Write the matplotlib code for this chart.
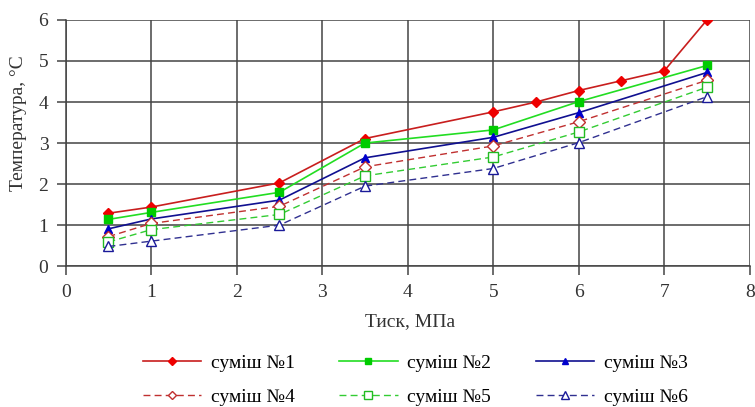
import matplotlib
matplotlib.use('Agg')
import matplotlib.pyplot as plt

plt.rcParams['font.family'] = ['Liberation Serif', 'DejaVu Serif']

# pressure, MPa
x_main = [0.5, 1, 2.5, 3.5, 5, 5.5, 6, 6.5, 7, 7.5]
x = [0.5, 1, 2.5, 3.5, 5, 6, 7.5]

mix1 = [1.29, 1.44, 2.03, 3.11, 3.76, 4.0, 4.28, 4.52, 4.76, 6.0]
mix2 = [1.14, 1.31, 1.80, 3.0, 3.32, 4.01, 4.89]
mix3 = [0.91, 1.15, 1.61, 2.64, 3.14, 3.74, 4.72]
mix4 = [0.72, 1.04, 1.46, 2.42, 2.93, 3.52, 4.53]
mix5 = [0.59, 0.89, 1.26, 2.2, 2.66, 3.27, 4.36]
mix6 = [0.48, 0.61, 1.0, 1.95, 2.38, 3.01, 4.13]

labels = ['суміш №1', 'суміш №2', 'суміш №3', 'суміш №4', 'суміш №5', 'суміш №6']

fig = plt.figure(figsize=(7.55, 4.07), dpi=100)
ax = fig.add_axes([0.087, 0.346, 0.906, 0.605])

h1, = ax.plot(x_main, mix1, color='#c81e1e', lw=1.2, marker='D', ms=5,
              mfc='#ee0000', mec='#ee0000', label=labels[0])
h2, = ax.plot(x, mix2, color='#22dd22', lw=1.2, marker='s', ms=6,
              mfc='#00cc00', mec='#00cc00', label=labels[1])
h3, = ax.plot(x, mix3, color='#101090', lw=1.2, marker='^', ms=6,
              mfc='#0000cc', mec='#0000cc', label=labels[2])
h4, = ax.plot(x, mix4, color='#c03030', lw=1.0, ls=(0, (5, 3)), marker='D', ms=6,
              mfc='white', mec='#c03030', label=labels[3])
h5, = ax.plot(x, mix5, color='#33cc33', lw=1.0, ls=(0, (5, 3)), marker='s', ms=7,
              mfc='white', mec='#22bb22', label=labels[4])
h6, = ax.plot(x, mix6, color='#303090', lw=1.0, ls=(0, (5, 3)), marker='^', ms=7,
              mfc='white', mec='#1a1a99', label=labels[5])

ax.set_xlim(0, 8)
ax.set_ylim(0, 6)
ax.set_xticks(range(0, 9))
ax.set_yticks(range(0, 7))
ax.grid(True, color='#444444', lw=1.1)
ax.set_axisbelow(True)
for s in ['top', 'right']:
    ax.spines[s].set_visible(False)
for s in ['left', 'bottom']:
    ax.spines[s].set_color('#444444')
    ax.spines[s].set_linewidth(1.1)
ax.tick_params(labelsize=14, length=6.5, width=1.1, color='#444444', labelcolor='#333333')
ax.tick_params(axis='x', pad=6)
ax.tick_params(axis='y', pad=6)

ax.set_xlabel('Тиск, МПа', fontsize=14, color='#333333')
ax.set_ylabel('Температура, °С', fontsize=14, color='#333333')
ax.xaxis.set_label_coords(0.503, -0.19)
ax.yaxis.set_label_coords(-0.057, 0.58)

handles = [h1, h4, h2, h5, h3, h6]
fig.legend(handles=handles, labels=[h.get_label() for h in handles],
           loc='center', bbox_to_anchor=(0.55, 0.066), ncol=3, frameon=False,
           fontsize=14, handlelength=3.0, columnspacing=2.3, labelspacing=0.85,
           handletextpad=0.5, markerscale=0.75)

fig.savefig('out.png', dpi=100)
